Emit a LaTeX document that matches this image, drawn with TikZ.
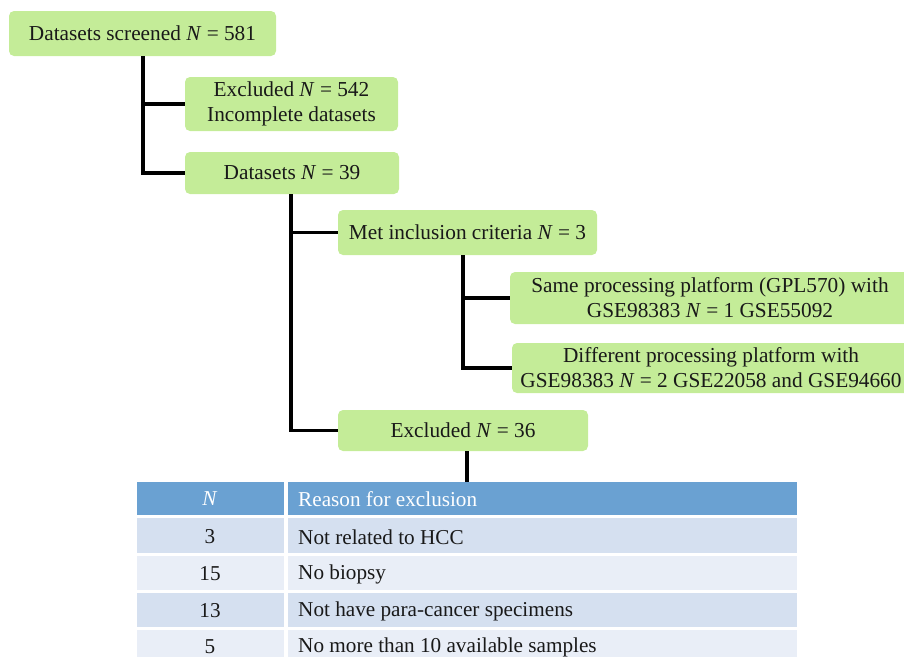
\documentclass[tikz,border=0pt]{standalone}
\usepackage{fontspec}
\setmainfont{Liberation Serif}
\begin{document}
\begin{tikzpicture}[x=1pt,y=-1pt,
  box/.style={fill=boxgreen,rounded corners=5pt,inner sep=0pt,align=center,
    font=\fontsize{21.3}{25}\selectfont,text=black!90},
  conn/.style={line width=3.6pt,black},
  cell/.style={inner sep=0pt,anchor=north west,font=\fontsize{21.2}{24}\selectfont,text=black!90}]
\definecolor{boxgreen}{RGB}{196,236,152}
\definecolor{hdrblue}{RGB}{106,161,210}
\definecolor{rowdark}{RGB}{213,224,240}
\definecolor{rowlight}{RGB}{233,238,247}
\useasboundingbox (0,0) rectangle (904,656);
% flow boxes
\node[box,minimum width=267pt,minimum height=45pt] (b1) at (142.5,33.5) {Datasets screened \textit{N} = 581};
\node[box,minimum width=213pt,minimum height=54pt] (ex1) at (291.5,104) {Excluded \textit{N} = 542\\Incomplete datasets};
\node[box,minimum width=214pt,minimum height=42pt] (ds) at (292,173) {Datasets \textit{N} = 39};
\node[box,minimum width=259pt,minimum height=45pt] (met) at (467.5,232.5) {Met inclusion criteria \textit{N} = 3};
\node[box,minimum width=400pt,minimum height=52pt] (same) at (710,298) {Same processing platform (GPL570) with\\GSE98383 \textit{N} = 1 GSE55092};
\node[box,minimum width=398pt,minimum height=50pt] (diff) at (711,368) {Different processing platform with\\GSE98383 \textit{N} = 2 GSE22058 and GSE94660};
\node[box,minimum width=250pt,minimum height=41pt] (ex2) at (463,430.5) {Excluded \textit{N} = 36};
% table
\fill[hdrblue] (137,482) rectangle (284,515);
\fill[hdrblue] (288,482) rectangle (797,515);
\fill[rowdark] (137,518) rectangle (284,553);
\fill[rowdark] (288,518) rectangle (797,553);
\fill[rowlight] (137,556) rectangle (284,590);
\fill[rowlight] (288,556) rectangle (797,590);
\fill[rowdark] (137,593) rectangle (284,627);
\fill[rowdark] (288,593) rectangle (797,627);
\fill[rowlight] (137,630) rectangle (284,670);
\fill[rowlight] (288,630) rectangle (797,670);
\coordinate (thead) at (467,482);
\node[cell,anchor=center,text=white] (hn) at (210,499) {\textit{N}};
\node[cell,anchor=west,text=white] (hr) at (298,499) {Reason for exclusion};
\node[cell,anchor=center] (n1) at (210,537) {3};
\node[cell,anchor=west] (r1) at (298,537) {Not related to HCC};
\node[cell,anchor=center] (n2) at (210,574) {15};
\node[cell,anchor=west] (r2) at (298,574) {No biopsy};
\node[cell,anchor=center] (n3) at (210,611) {13};
\node[cell,anchor=west] (r3) at (298,611) {Not have para-cancer specimens};
\node[cell,anchor=center] (n4) at (210,647) {5};
\node[cell,anchor=west] (r4) at (298,647) {No more than 10 available samples};
% connectors
\draw[conn] ([xshift=0.5pt]b1.south) |- (ex1.west);
\draw[conn] ([xshift=0.5pt]b1.south) |- (ds.west);
\draw[conn] ([xshift=-1pt]ds.south) |- (met.west);
\draw[conn] ([xshift=-1pt]ds.south) |- (ex2.west);
\draw[conn] ([xshift=-4.5pt]met.south) |- (same.west);
\draw[conn] ([xshift=-4.5pt]met.south) |- (diff.west);
\draw[conn] ([xshift=4pt]ex2.south) -- (thead);
\end{tikzpicture}
\end{document}
